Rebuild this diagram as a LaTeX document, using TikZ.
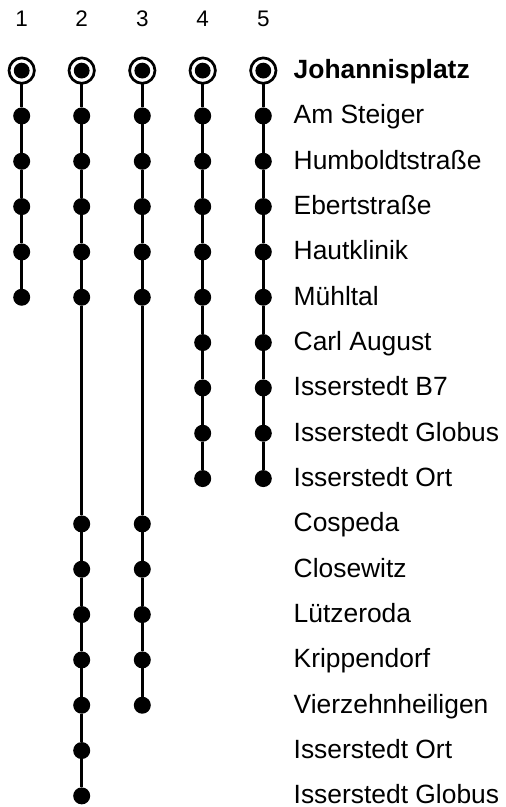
\documentclass[tikz,border=0pt]{standalone}
\usepackage{fontspec}
\setmainfont{Liberation Sans}
\begin{document}
\begin{tikzpicture}[x=1pt,y=-1pt,
  stop/.style={circle,fill=black,inner sep=0pt,outer sep=0pt,minimum size=17pt},
  terminus/.style={circle,draw=black,line width=2.7pt,inner sep=0pt,outer sep=0pt,minimum size=25.4pt,
    path picture={\fill[black] (path picture bounding box.center) circle (7.9pt);}},
  route/.style={line width=2.7pt,black},
  stoplabel/.style={anchor=base west,inner sep=0pt,font=\fontsize{26.4}{30}\selectfont},
  routenum/.style={anchor=base,inner sep=0pt,font=\fontsize{22.5}{26}\selectfont}]
\useasboundingbox (0,0) rectangle (506,807);
\def\rowy#1{70.6+45.33*#1}
% route numbers
\foreach \c/\x in {1/21.7,2/81.7,3/142.3,4/202.7,5/263.3}{
  \node[routenum] (num\c) at (\x,26) {\c};
}
% labels
\foreach \r/\t in {1/Am Steiger,2/Humboldtstraße,3/Ebertstraße,4/Hautklinik,5/Mühltal,
  6/Carl August,7/Isserstedt B7,8/Isserstedt Globus,9/Isserstedt Ort,10/Cospeda,
  11/Closewitz,12/Lützeroda,13/Krippendorf,14/Vierzehnheiligen,15/Isserstedt Ort,16/Isserstedt Globus}{
  \node[stoplabel] (lab\r) at (293.5,{\rowy{\r}+8}) {\t};
}
\node[stoplabel,font=\fontsize{26.4}{30}\selectfont\bfseries] (lab0) at (293.5,{\rowy{0}+8}) {Johannisplatz};
% termini
\foreach \c/\x in {1/21.7,2/81.7,3/142.3,4/202.7,5/263.3}{
  \node[terminus] (s\c-0) at (\x,{\rowy{0}}) {};
}
% stops
\foreach \r in {1,...,5}{
  \foreach \c/\x in {1/21.7,2/81.7,3/142.3,4/202.7,5/263.3}{
    \node[stop] (s\c-\r) at (\x,{\rowy{\r}}) {};
  }
}
\foreach \r in {6,...,9}{
  \foreach \c/\x in {4/202.7,5/263.3}{
    \node[stop] (s\c-\r) at (\x,{\rowy{\r}}) {};
  }
}
\foreach \r in {10,...,14}{
  \foreach \c/\x in {2/81.7,3/142.3}{
    \node[stop] (s\c-\r) at (\x,{\rowy{\r}}) {};
  }
}
\foreach \r in {15,16}{
  \node[stop] (s2-\r) at (81.7,{\rowy{\r}}) {};
}
% connectors
\foreach \c in {1,...,5}{
  \foreach \a/\b in {0/1,1/2,2/3,3/4,4/5}{
    \draw[route] (s\c-\a) -- (s\c-\b);
  }
}
\foreach \c in {4,5}{
  \foreach \a/\b in {5/6,6/7,7/8,8/9}{
    \draw[route] (s\c-\a) -- (s\c-\b);
  }
}
\foreach \c in {2,3}{
  \foreach \a/\b in {5/10,10/11,11/12,12/13,13/14}{
    \draw[route] (s\c-\a) -- (s\c-\b);
  }
}
\foreach \a/\b in {14/15,15/16}{
  \draw[route] (s2-\a) -- (s2-\b);
}
\end{tikzpicture}
\end{document}
